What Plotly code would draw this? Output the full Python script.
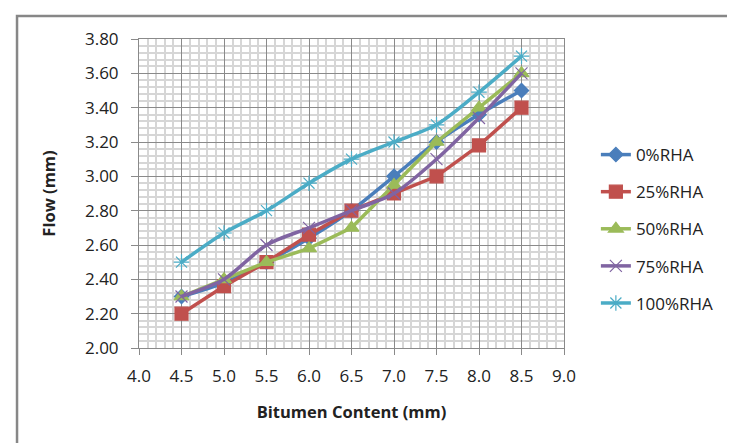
import plotly.graph_objects as go

bitumen = [4.5, 5.0, 5.5, 6.0, 6.5, 7.0, 7.5, 8.0, 8.5]
rha_0 = [2.30, 2.38, 2.50, 2.64, 2.80, 3.00, 3.20, 3.36, 3.50]
rha_25 = [2.20, 2.36, 2.50, 2.66, 2.80, 2.90, 3.00, 3.18, 3.40]
rha_50 = [2.30, 2.40, 2.50, 2.58, 2.70, 2.95, 3.20, 3.40, 3.60]
rha_75 = [2.30, 2.40, 2.60, 2.70, 2.80, 2.90, 3.10, 3.34, 3.60]
rha_100 = [2.50, 2.67, 2.80, 2.96, 3.10, 3.20, 3.30, 3.49, 3.70]

series_names = ["0%RHA", "25%RHA", "50%RHA", "75%RHA", "100%RHA"]
series_values = [rha_0, rha_25, rha_50, rha_75, rha_100]
colors = ["#4A7EBB", "#C0504D", "#9BBB59", "#8064A2", "#4BACC6"]
symbols = ["diamond", "square", "triangle-up", "x-thin-open", "asterisk-open"]
msizes = [11, 13, 13, 12, 13]
shapes = ["spline", "linear", "linear", "spline", "spline"]

FONT = "Open Sans"

fig = go.Figure()
for name, vals, col, sym, ms, shp in zip(series_names, series_values, colors, symbols, msizes, shapes):
    fig.add_trace(go.Scatter(
        x=bitumen, y=vals, name=name, mode="lines+markers",
        legendgroup=name,
        line=dict(color=col, width=3.5, shape=shp, smoothing=0.8),
        marker=dict(symbol=sym, size=ms, color=col,
                    line=dict(color=col, width=1.2)),
    ))

fig.update_layout(
    width=735, height=443,
    margin=dict(l=131, r=179, t=31, b=103),
    paper_bgcolor="white", plot_bgcolor="white",
    font=dict(family=FONT, size=17, color="#222222"),
    legend=dict(x=1.075, xanchor="left", y=0.385, yanchor="middle",
                tracegroupgap=12, font=dict(family=FONT, size=17),
                bgcolor="rgba(0,0,0,0)"),
    shapes=[dict(type="rect", xref="paper", yref="paper",
                 x0=-0.287, x1=1.6, y0=-0.6, y1=1.0744,
                 line=dict(color="#878787", width=2.5), layer="below")],
)

fig.update_xaxes(
    range=[4, 9], dtick=0.5, tick0=4, tickformat=".1f",
    showline=True, linecolor="#8a8a8a", linewidth=1, mirror=True,
    ticks="outside", ticklen=6, tickcolor="#8a8a8a",
    showgrid=True, gridcolor="#8a8a8a", gridwidth=1,
    minor=dict(dtick=0.1, showgrid=True, gridcolor="#d6d6d6", gridwidth=1.5),
    ticklabelstandoff=7, zeroline=False,
    title=dict(text="<b>Bitumen Content (mm)</b>", standoff=20,
               font=dict(family=FONT, size=16.5)),
)
fig.update_yaxes(
    range=[2, 3.8], dtick=0.2, tick0=2, tickformat=".2f",
    showline=True, linecolor="#8a8a8a", linewidth=1, mirror=True,
    ticks="outside", ticklen=7, tickcolor="#8a8a8a",
    showgrid=True, gridcolor="#8a8a8a", gridwidth=1,
    minor=dict(dtick=0.04, showgrid=True, gridcolor="#d6d6d6", gridwidth=1.5),
    ticklabelstandoff=9, zeroline=False,
    title=dict(text="<b>Flow (mm)</b>", standoff=25,
               font=dict(family=FONT, size=16.5)),
)

fig.write_html("out.html")
